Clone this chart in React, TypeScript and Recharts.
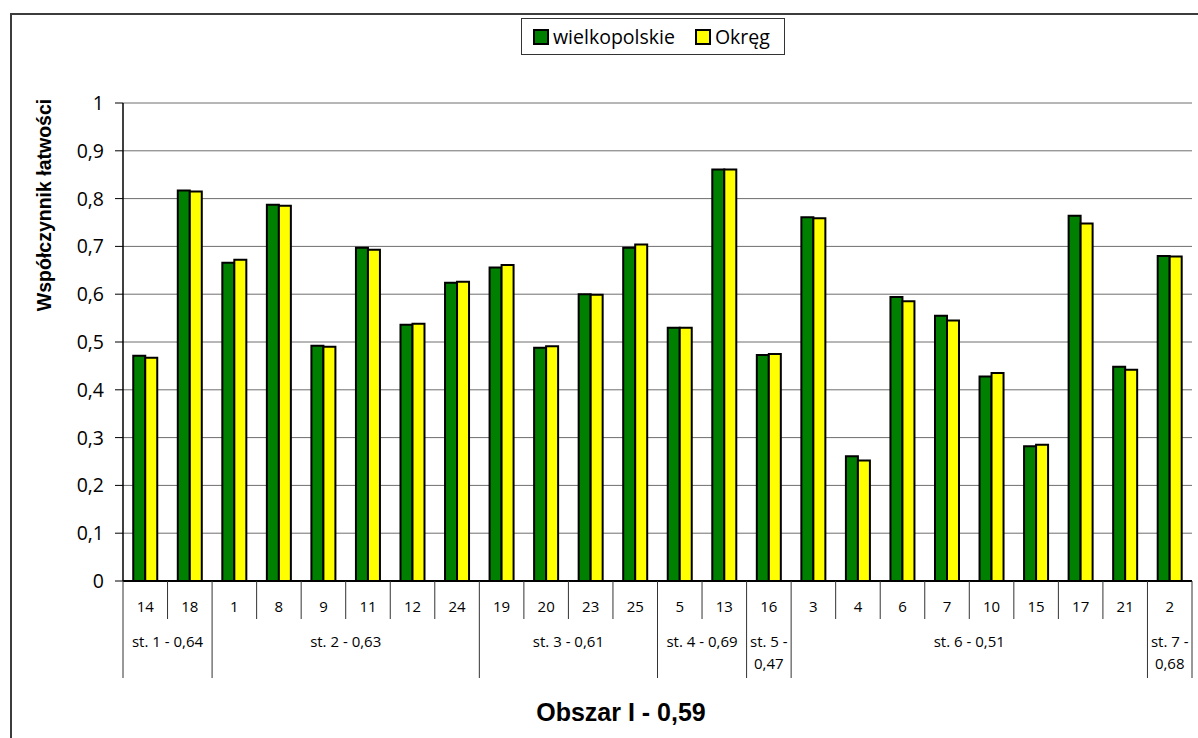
import { BarChart, Bar, XAxis, YAxis, CartesianGrid, Legend } from 'recharts'

const questions = ['14', '18', '1', '8', '9', '11', '12', '24', '19', '20', '23', '25', '5', '13', '16', '3', '4', '6', '7', '10', '15', '17', '21', '2']
const wielkopolskie = [0.471, 0.817, 0.666, 0.787, 0.492, 0.697, 0.536, 0.624, 0.656, 0.488, 0.6, 0.697, 0.53, 0.861, 0.473, 0.761, 0.261, 0.594, 0.555, 0.428, 0.282, 0.764, 0.448, 0.68]
const okreg = [0.467, 0.815, 0.672, 0.785, 0.49, 0.693, 0.538, 0.626, 0.661, 0.491, 0.599, 0.704, 0.53, 0.861, 0.475, 0.759, 0.252, 0.585, 0.545, 0.435, 0.285, 0.748, 0.442, 0.679]
const groupLabels = ['st. 1 - 0,64', 'st. 2 - 0,63', 'st. 3 - 0,61', 'st. 4 - 0,69', 'st. 5 - 0,47', 'st. 6 - 0,51', 'st. 7 - 0,68']
const groupSizes = [2, 6, 4, 2, 1, 8, 1]
const yTicks = [0, 0.1, 0.2, 0.3, 0.4, 0.5, 0.6, 0.7, 0.8, 0.9, 1]

const data = questions.map((q, i) => ({ q, wielkopolskie: wielkopolskie[i], okreg: okreg[i] }))

// index of first category in each group
const groupStarts: Record<number, number> = {}
let acc = 0
groupSizes.forEach((n, g) => {
  groupStarts[acc] = g
  acc += n
})

const W = 1198
const H = 738
const Y_W = 60
const X_H = 100
// plot area: x 123..1192, y 103..581
const M = { top: 103, right: 6, bottom: 157 - X_H, left: 123 - Y_W }
const BAND = (W - 123 - 6) / questions.length
const SMALL = '"Open Sans", sans-serif'
const BOLD = '"Liberation Sans", Arial, sans-serif'

function XTick(props: any) {
  const { x, y, payload, index } = props
  const left = x - BAND / 2
  const g = groupStarts[index]
  const isLast = index === questions.length - 1
  let groupText = null
  if (g !== undefined) {
    const cx = left + (groupSizes[g] * BAND) / 2
    const label = groupLabels[g]
    const lines = groupSizes[g] === 1 ? [label.split(' - ')[0] + ' -', label.split(' - ')[1]] : [label]
    groupText = (
      <text x={cx} y={y + 66} textAnchor="middle" fontFamily={SMALL} fontSize={15} fill="#000">
        {lines.map((l, k) => (
          <tspan key={k} x={cx} dy={k === 0 ? 0 : 22}>{l}</tspan>
        ))}
      </text>
    )
  }
  return (
    <g>
      <line x1={left} x2={left} y1={y} y2={y + (g !== undefined ? 97 : 38)} stroke="#333" strokeWidth={1} />
      {isLast && <line x1={left + BAND} x2={left + BAND} y1={y} y2={y + 97} stroke="#333" strokeWidth={1} />}
      <text x={x} y={y + 31} textAnchor="middle" fontFamily={SMALL} fontSize={15} fill="#000">{payload.value}</text>
      {groupText}
    </g>
  )
}

function LegendBox() {
  const item = (color: string, label: string) => (
    <span style={{ display: 'inline-flex', alignItems: 'center' }}>
      <span style={{ width: 12, height: 12, background: color, border: '2px solid #000', marginRight: 4 }} />
      <span>{label}</span>
    </span>
  )
  return (
    <div
      style={{
        border: '1px solid #333',
        height: 37,
        boxSizing: 'border-box',
        display: 'flex',
        alignItems: 'center',
        paddingLeft: 11,
        fontFamily: SMALL,
        fontSize: 19.5,
        color: '#000',
        background: '#fff',
        whiteSpace: 'nowrap',
      }}
    >
      {item('#008000', 'wielkopolskie')}
      <span style={{ width: 20 }} />
      {item('#ffff00', 'Okręg')}
    </div>
  )
}

export default function App() {
  return (
    <div style={{ position: 'absolute', left: 0, top: 0, width: W, height: H, overflow: 'hidden', background: '#fff' }}>
      <div style={{ position: 'absolute', left: 10, top: 13, width: 1300, height: 900, border: '2px solid #3c3c3c' }} />
      <div style={{ position: 'absolute', left: 0, top: 0 }}>
        <BarChart width={W} height={H} data={data} margin={M} barGap={0} barCategoryGap="23%">
          <CartesianGrid vertical={false} stroke="#6e6e6e" strokeWidth={1} />
          <XAxis
            dataKey="q"
            interval={0}
            tickLine={false}
            tickSize={0}
            tickMargin={0}
            height={X_H}
            axisLine={{ stroke: '#000', strokeWidth: 2 }}
            tick={<XTick />}
            label={{
              content: () => (
                <text x={621} y={721} textAnchor="middle" fontFamily={BOLD} fontWeight="bold" fontSize={25} fill="#000">
                  Obszar I - 0,59
                </text>
              ),
            }}
          />
          <YAxis
            domain={[0, 1]}
            ticks={yTicks}
            interval={0}
            width={Y_W}
            tickSize={8}
            tickMargin={11}
            tickFormatter={(v: number) => String(v).replace('.', ',')}
            tick={{ fontFamily: SMALL, fontSize: 19.5, fill: '#000' }}
            tickLine={{ stroke: '#000' }}
            axisLine={{ stroke: '#000', strokeWidth: 1.5 }}
            label={{
              content: () => (
                <text
                  x={51}
                  y={205}
                  transform="rotate(-90 51 205)"
                  textAnchor="middle"
                  fontFamily={BOLD}
                  fontWeight="bold"
                  fontSize={19.5}
                  fill="#000"
                >
                  Współczynnik łatwości
                </text>
              ),
            }}
          />
          <YAxis
            yAxisId="frame"
            orientation="right"
            width={0}
            domain={[0, 1]}
            tick={false}
            tickLine={false}
            axisLine={{ stroke: '#8c8c8c', strokeWidth: 2 }}
          />
          <Legend
            layout="horizontal"
            verticalAlign="middle"
            align="center"
            content={<LegendBox />}
            wrapperStyle={{ position: 'absolute', left: 521, top: 18, width: 264, height: 37 }}
          />
          <Bar dataKey="wielkopolskie" name="wielkopolskie" fill="#008000" stroke="#000" strokeWidth={2} isAnimationActive={false} />
          <Bar dataKey="okreg" name="Okręg" fill="#ffff00" stroke="#000" strokeWidth={2} isAnimationActive={false} />
        </BarChart>
      </div>
    </div>
  )
}
